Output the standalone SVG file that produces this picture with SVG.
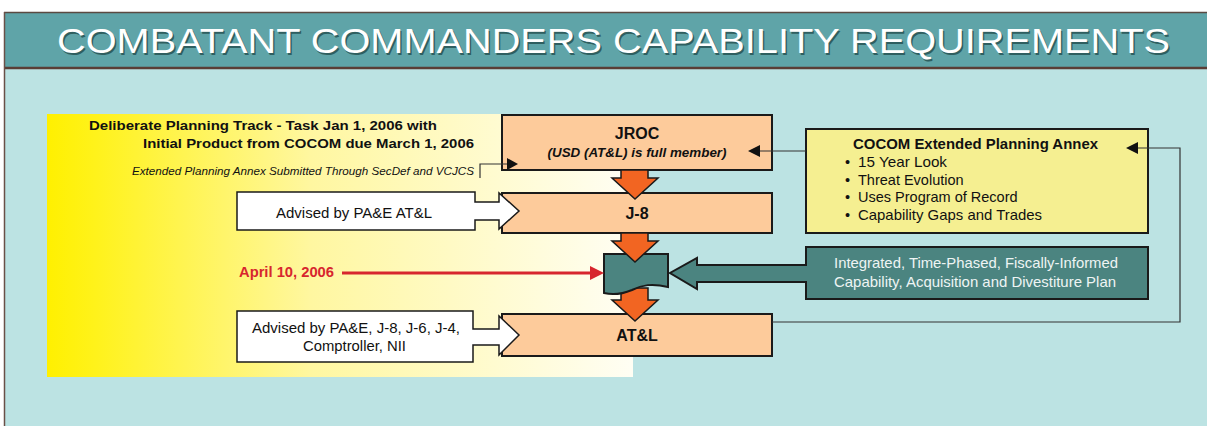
<svg xmlns="http://www.w3.org/2000/svg" width="1207" height="426" viewBox="0 0 1207 426">
<defs>
<style>
.t{font-family:"Liberation Sans",Arial,sans-serif;}
.b{font-weight:bold;}
.box{stroke:#1a1a1a;stroke-width:2;}
.ln{fill:none;stroke:#333;stroke-width:1.2;}
.hd{fill:#111;stroke:none;}
.or{fill:#F26522;stroke:#1a1a1a;stroke-width:1.5;stroke-linejoin:miter;}
.wh{fill:#fff;stroke:#1a1a1a;stroke-width:1.5;}
</style>
<linearGradient id="yg" x1="0" y1="0" x2="1" y2="0">
<stop offset="0" stop-color="#FFF000"/>
<stop offset="0.08" stop-color="#FFF21A"/>
<stop offset="0.45" stop-color="#FFF7A0"/>
<stop offset="1" stop-color="#FFFEF4"/>
</linearGradient>
</defs>

<g id="background">
<rect x="0" y="0" width="1207" height="426" fill="#fff"/>
<rect x="4" y="12" width="1203" height="414" fill="#BCE3E3"/>
<rect x="4" y="12" width="1203" height="56" fill="#5FA4A8"/>
<line x1="4" y1="12.5" x2="1207" y2="12.5" stroke="#5a4a42" stroke-width="1.5"/>
<line x1="4" y1="68" x2="1207" y2="68" stroke="#5a3e36" stroke-width="2.5"/>
<line x1="4.5" y1="12" x2="4.5" y2="426" stroke="#6a5048" stroke-width="1.5"/>
<text class="t" x="58.5" y="54.5" font-size="35" fill="#2f5f60" textLength="1113" lengthAdjust="spacingAndGlyphs">COMBATANT COMMANDERS CAPABILITY REQUIREMENTS</text>
<text class="t" x="57" y="53" font-size="35" fill="#fff" textLength="1113" lengthAdjust="spacingAndGlyphs">COMBATANT COMMANDERS CAPABILITY REQUIREMENTS</text>
</g>

<g id="track">
<rect x="47" y="114" width="586" height="263" fill="url(#yg)"/>
<text class="t b" x="89" y="130" font-size="13.5" fill="#111" textLength="348" lengthAdjust="spacingAndGlyphs">Deliberate Planning Track - Task  Jan 1, 2006 with</text>
<text class="t b" x="143" y="148" font-size="13.5" fill="#111" textLength="331" lengthAdjust="spacingAndGlyphs">Initial Product from COCOM due March 1, 2006</text>
<text class="t" x="132" y="175" font-size="11" font-style="italic" fill="#111" textLength="342" lengthAdjust="spacingAndGlyphs">Extended Planning Annex Submitted Through SecDef and VCJCS</text>
</g>

<g id="jroc">
<rect class="box" x="502" y="115" width="270" height="55" fill="#FDCB9B"/>
<text class="t b" x="637" y="139" font-size="16" text-anchor="middle" fill="#111">JROC</text>
<text class="t b" x="637" y="157" font-size="12" font-style="italic" text-anchor="middle" fill="#111" textLength="179" lengthAdjust="spacingAndGlyphs">(USD (AT&amp;L) is full member)</text>
</g>

<g id="j8">
<rect class="box" x="502" y="193" width="270" height="40" fill="#FDCB9B"/>
<text class="t b" x="637" y="219" font-size="16" text-anchor="middle" fill="#111">J-8</text>
</g>

<g id="atl">
<rect class="box" x="502" y="314" width="270" height="42" fill="#FDCB9B"/>
<text class="t b" x="637" y="341" font-size="16" text-anchor="middle" fill="#111">AT&amp;L</text>
</g>

<g id="advised1">
<path class="wh" d="M237,192 H475 V202 H499 V193 L519,211 L499,229 V220 H475 V230 H237 Z"/>
<text class="t" x="276" y="218" font-size="14.5" fill="#111" textLength="156" lengthAdjust="spacingAndGlyphs">Advised by PA&amp;E AT&amp;L</text>
</g>

<g id="advised2">
<path class="wh" d="M237,311 H473 V329 H499 V316 L519,335 L499,355 V345 H473 V362 H237 Z"/>
<text class="t" x="252" y="333" font-size="14.5" fill="#111" textLength="208" lengthAdjust="spacingAndGlyphs">Advised by PA&amp;E, J-8, J-6, J-4,</text>
<text class="t" x="303" y="351" font-size="14.5" fill="#111" textLength="103" lengthAdjust="spacingAndGlyphs">Comptroller, NII</text>
</g>

<g id="arrows">
<path class="or" d="M621,170 H648 V178 H658 L635,199 L612,178 H621 Z"/>
<path class="or" d="M621,288 H648 V300 H658 L635,321 L612,300 H621 Z"/>
</g>

<g id="plan-doc">
<path class="box" d="M604,254 H668 V287 C652,283 642,285 632,290 C620,295 612,295 604,293 Z" fill="#4B8480"/>
<path class="or" d="M621,233 H648 V241 H658 L635,262 L612,241 H621 Z"/>
</g>

<g id="april">
<text class="t b" x="239" y="277" font-size="14" fill="#D7262E" textLength="95" lengthAdjust="spacingAndGlyphs">April 10, 2006</text>
</g>

<g id="plan">
<path class="box" d="M806,247 H1148 V299 H806 V282 H697 V289 L670,273 L697,258 V265 H806 Z" fill="#4B8480"/>
<text class="t" x="834" y="268" font-size="14.5" fill="#EEF4F4" textLength="284" lengthAdjust="spacingAndGlyphs">Integrated, Time-Phased, Fiscally-Informed</text>
<text class="t" x="834" y="287" font-size="14.5" fill="#EEF4F4" textLength="282" lengthAdjust="spacingAndGlyphs">Capability, Acquisition and Divestiture Plan</text>
</g>

<g id="cocom">
<rect class="box" x="806" y="129" width="342" height="104" fill="#F5EF91"/>
<text class="t b" x="853" y="149" font-size="14.5" fill="#111" textLength="245" lengthAdjust="spacingAndGlyphs">COCOM Extended Planning Annex</text>
<g class="t" font-size="14.5" fill="#111">
<text x="845" y="167">•</text><text x="858" y="167" textLength="89" lengthAdjust="spacingAndGlyphs">15 Year  Look</text>
<text x="845" y="185">•</text><text x="858" y="185">Threat Evolution</text>
<text x="845" y="202">•</text><text x="858" y="202">Uses Program of Record</text>
<text x="845" y="220">•</text><text x="858" y="220" textLength="184" lengthAdjust="spacingAndGlyphs">Capability Gaps and Trades</text>
</g>
</g>

<g id="connectors">
<polyline class="ln" points="480,178 480,164 508,164"/>
<polygon class="hd" points="518,164 507,158 507,170"/>
<line class="ln" x1="806" y1="151" x2="758" y2="151"/>
<polygon class="hd" points="748,151 760,145 760,157"/>
<polyline class="ln" points="772,322 1180,322 1180,148 1137,148"/>
<polygon class="hd" points="1126,148 1138,142 1138,154"/>
<line x1="342" y1="273" x2="592" y2="273" stroke="#D7262E" stroke-width="3"/>
<polygon points="604,273 590,266 590,280" fill="#D7262E"/>
</g>
</svg>
